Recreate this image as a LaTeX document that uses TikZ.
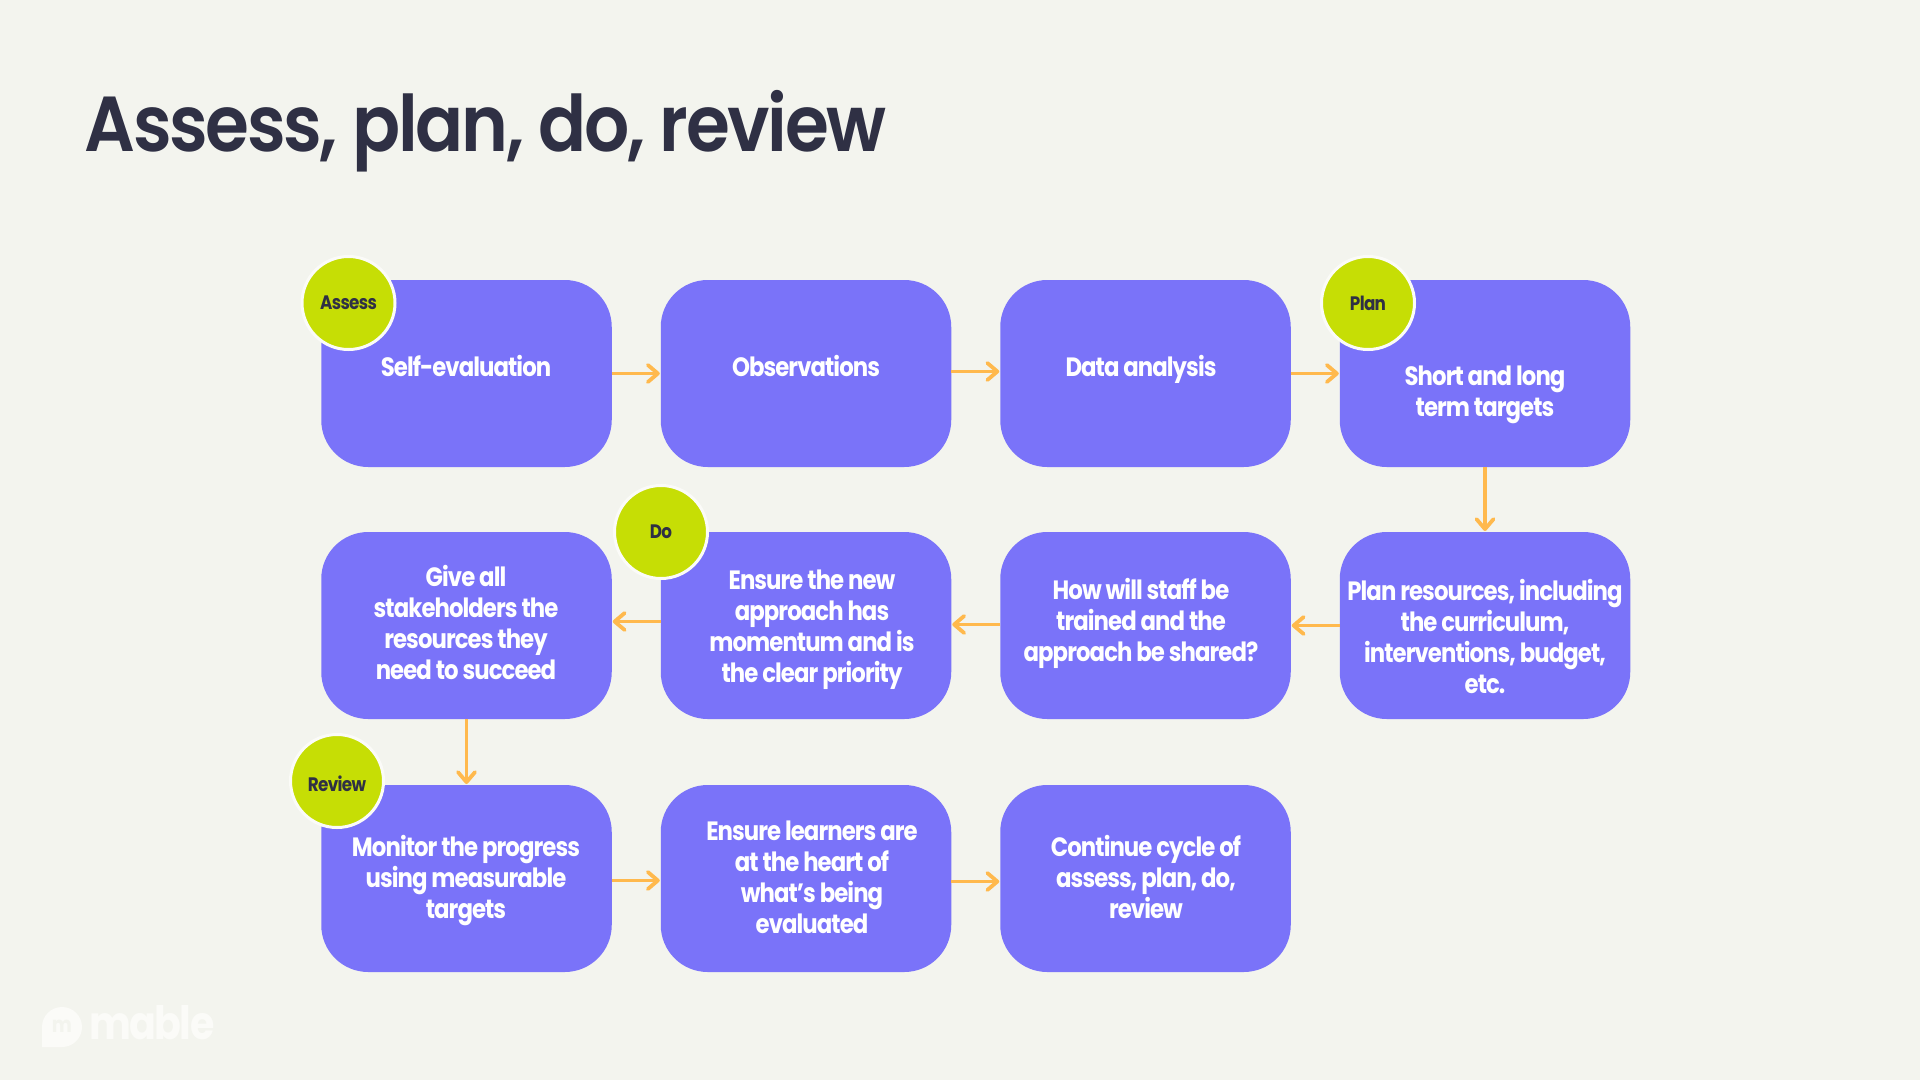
\documentclass[tikz,border=0pt]{standalone}
\usepackage{fontspec}
\usetikzlibrary{arrows.meta}
\setmainfont{Poppins}[UprightFont=* Bold,BoldFont=* Bold,LetterSpace=-3.5,FakeStretch=0.86]
\newfontfamily\titlefont{Poppins}[UprightFont=* SemiBold,LetterSpace=-3.0,FakeStretch=0.91]
\definecolor{bgc}{HTML}{F3F4EE}
\definecolor{boxc}{HTML}{7A73F9}
\definecolor{limec}{HTML}{C6DE05}
\definecolor{arrowc}{HTML}{FFB94D}
\definecolor{inkc}{HTML}{2F3044}
\definecolor{logoc}{HTML}{FBFBF8}
\tikzset{
  x=1pt,y=-1pt,
  stepbox/.style={fill=boxc,draw=none,rounded corners=47pt,minimum width=290.5pt,minimum height=187pt,inner sep=0pt,outer sep=0pt},
  boxtext/.style={text=white,align=center,font=\fontsize{26.5}{31}\selectfont,inner sep=0pt},
  badge/.style={circle,fill=limec,draw=logoc,line width=3pt,minimum size=93pt,inner sep=0pt,text=inkc,font=\fontsize{19.5}{22}\selectfont},
  flow/.style={draw=arrowc,line width=3.8pt,-{Straight Barb[length=10pt,width=17pt,line width=3.8pt,round]},shorten >=1pt},
}
\begin{document}
\begin{tikzpicture}
\useasboundingbox[fill=bgc] (0,0) rectangle (1920,1080);
\node[anchor=west,text=inkc,font=\titlefont\fontsize{78}{90}\selectfont] (title) at (81,131.5) {Assess, plan, do, review};
% boxes
\node[stepbox] (b1) at (466.5,373.5) {};
\node[stepbox] (b2) at (806,373.5) {};
\node[stepbox] (b3) at (1145.5,373.5) {};
\node[stepbox] (b4) at (1485,373.5) {};
\node[stepbox] (b5) at (1485,625.5) {};
\node[stepbox] (b6) at (1145.5,625.5) {};
\node[stepbox] (b7) at (806,625.5) {};
\node[stepbox] (b8) at (466.5,625.5) {};
\node[stepbox] (b9) at (466.5,878.5) {};
\node[stepbox] (b10) at (806,878.5) {};
\node[stepbox] (b11) at (1145.5,878.5) {};
% texts
\node[boxtext] (t1) at (466,366) {Self-evaluation};
\node[boxtext] (t2) at (806,366) {Observations};
\node[boxtext] (t3) at (1141,369) {Data analysis};
\node[boxtext] (t4) at (1485,395) {Short and long\\term targets};
\node[boxtext] (t5) at (1485,636) {Plan resources, including\\the curriculum,\\interventions, budget,\\etc.};
\node[boxtext] (t6) at (1141,623.5) {How will staff be\\trained and the\\approach be shared?};
\node[boxtext] (t7) at (812,630) {Ensure the new\\approach has\\momentum and is\\the clear priority};
\node[boxtext] (t8) at (466,622) {Give all\\stakeholders the\\resources they\\need to succeed};
\node[boxtext] (t9) at (466,881) {Monitor the progress\\using measurable\\targets};
\node[boxtext] (t10) at (812,877) {Ensure learners are\\at the heart of\\what's being\\evaluated};
\node[boxtext] (t11) at (1146,877) {Continue cycle of\\assess, plan, do,\\review};
% connectors
\draw[flow] (b1.east) -- (b2.west);
\draw[flow] ([yshift=2pt]b2.east) -- ([yshift=2pt]b3.west);
\draw[flow] (b3.east) -- (b4.west);
\draw[flow] (b4.south) -- (b5.north);
\draw[flow] (b5.west) -- (b6.east);
\draw[flow] ([yshift=1pt]b6.west) -- ([yshift=1pt]b7.east);
\draw[flow] ([yshift=4pt]b7.west) -- ([yshift=4pt]b8.east);
\draw[flow] (b8.south) -- (b9.north);
\draw[flow] ([yshift=-2pt]b9.east) -- ([yshift=-2pt]b10.west);
\draw[flow] ([yshift=-3pt]b10.east) -- ([yshift=-3pt]b11.west);
% badges
\node[badge] (assess) at (348.5,303) {Assess};
\node[badge] (plan) at (1368,303) {Plan};
\node[badge] (do) at (661,532) {Do};
\node[badge] (review) at (337,781) {\rule{0pt}{21pt}Review};
% logo
\fill[logoc] (42,1047) -- (42,1027) arc[start angle=180,end angle=450,radius=20] -- cycle;
\node[text=bgc,font=\fontsize{22}{26}\selectfont,inner sep=0pt] (logom) at (62,1026) {m};
\node[anchor=base west,text=logoc,font=\fontsize{46}{50}\selectfont,inner sep=0pt] (logo) at (89,1039) {mable};
\end{tikzpicture}
\end{document}
